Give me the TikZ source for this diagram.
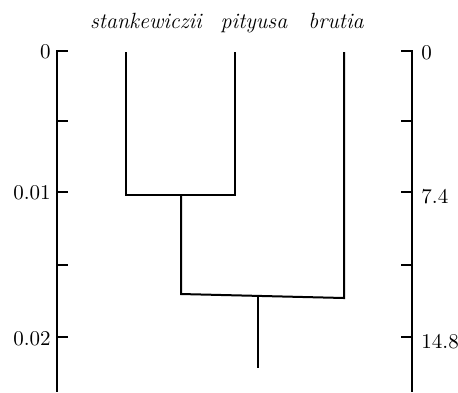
\documentclass[tikz,border=0pt]{standalone}
\begin{document}
\begin{tikzpicture}[x=0.5pt,y=-0.5pt,
  axis/.style={line width=1.3pt},
  branch/.style={line width=1pt},
  taxon/.style={font=\fontsize{11}{13}\selectfont\itshape, anchor=base, inner sep=0pt},
  lab/.style={font=\fontsize{10.5}{12}\selectfont, inner sep=0pt}]
\useasboundingbox (0,0) rectangle (458,392);
% axes
\coordinate (LT) at (57,50);
\coordinate (LB) at (57,392);
\coordinate (RT) at (412,50);
\coordinate (RB) at (412,392);
\draw[axis] (LT) -- (LB);
\draw[axis] (RT) -- (RB);
\foreach \y/\n in {51/l0,121/l1,192/l2,265/l3,337/l4} {
  \coordinate (\n) at (57,\y);
  \draw[axis] (\n) -- ++(11,0);
}
\foreach \y/\n in {51/r0,121/r1,192/r2,265/r3,337/r4} {
  \coordinate (\n) at (412,\y);
  \draw[axis] (\n) -- ++(-11,0);
}
\node[lab, anchor=east] (t0) at (51,52) {0};
\node[lab, anchor=east] (t1) at (51,193) {0.01};
\node[lab, anchor=east] (t2) at (51,339) {0.02};
\node[lab, anchor=west] (u0) at (421,53) {0};
\node[lab, anchor=west] (u1) at (421,197) {7.4};
\node[lab, anchor=west] (u2) at (421,342) {14.8};
% taxa
\node[taxon] (s) at (146,28) {stankewiczii};
\node[taxon] (p) at (254,28) {pityusa};
\node[taxon] (b) at (336,28) {brutia};
% tree
\coordinate (sT) at (126,52);
\coordinate (pT) at (235,52);
\coordinate (bT) at (344,52);
\coordinate (sB) at (126,195);
\coordinate (pB) at (235,195);
\coordinate (m1) at (181,195);
\coordinate (m1B) at (181,294);
\coordinate (bB) at (344,298);
\coordinate (root) at (258,296);
\coordinate (rootB) at (258,368);
\draw[branch] (sT) -- (sB) -- (pB) -- (pT);
\draw[branch] (m1) -- (m1B) -- (bB) -- (bT);
\draw[branch] (root) -- (rootB);
\end{tikzpicture}
\end{document}
